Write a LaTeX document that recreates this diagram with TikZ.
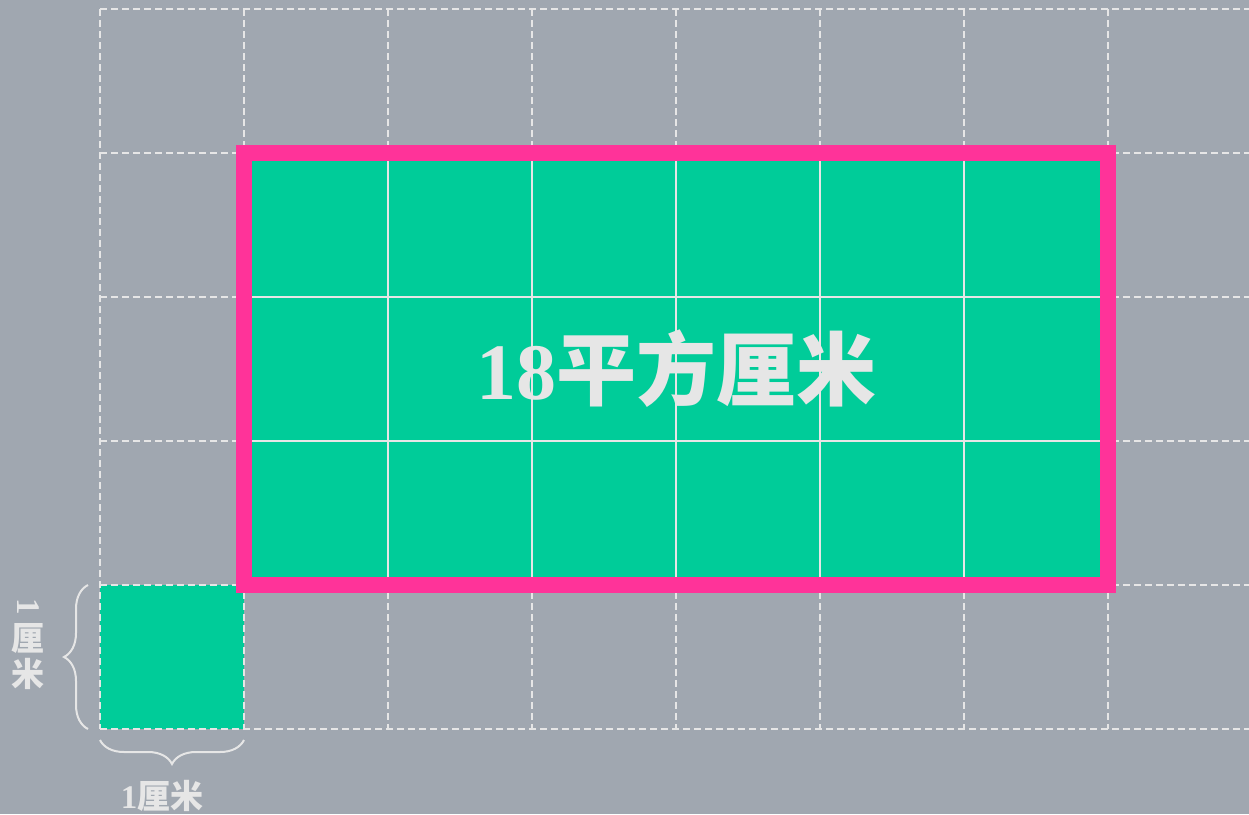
\documentclass[tikz,border=0pt]{standalone}
\usepackage{fontspec}
\setmainfont{Liberation Serif}
\newfontfamily\cjk{Noto Sans CJK SC}
\usetikzlibrary{decorations.pathreplacing}
\definecolor{bg}{HTML}{A0A7B0}
\definecolor{tgreen}{HTML}{00CC99}
\definecolor{tpink}{HTML}{FF3399}
\definecolor{lite}{HTML}{E6E6E6}
\tikzset{
  gridline/.style={draw=lite, line width=2pt, dash pattern=on 7pt off 4pt},
  cellline/.style={draw=lite, line width=2pt},
  frame/.style={draw=tpink, line width=16pt},
  bracestyle/.style={draw=lite, line width=2pt, decorate, decoration={brace, amplitude=24pt}},
  lbl/.style={text=lite, inner sep=0pt},
  small/.style={lbl, font=\fontsize{33}{33}\selectfont\bfseries}
}
\begin{document}
\begin{tikzpicture}[x=1pt,y=-1pt]
\fill[bg] (0,0) rectangle (1249,814);
\useasboundingbox (0,0) rectangle (1249,814);
% unit square
\node (unit) [fill=tgreen, minimum width=144pt, minimum height=144pt, inner sep=0pt] at (172,657) {};
% dashed grid
\foreach \x in {100,244,...,1108} \draw[gridline] (\x,9) -- (\x,729);
\foreach \y in {9,153,...,729} \draw[gridline] (100,\y) -- (1249,\y);
% area
\node (area) [fill=tgreen, minimum width=864pt, minimum height=432pt, inner sep=0pt] at (676,369) {};
\foreach \x in {388,532,...,964} \draw[cellline] (\x,153) -- (\x,585);
\foreach \y in {297,441} \draw[cellline] (244,\y) -- (1108,\y);
\draw[frame] (area.north west) rectangle (area.south east);
\node (arealabel) [lbl, font=\fontsize{80}{80}\selectfont\bfseries] at (area.center) {18{\cjk\bfseries 平方厘米}};
% braces
\coordinate (lb1) at (88,729);
\coordinate (lb2) at (88,585);
\draw[bracestyle] (lb1) -- (lb2);
\coordinate (bb1) at (244,740);
\coordinate (bb2) at (100,740);
\draw[bracestyle] (bb1) -- (bb2);
\node (lone) [small, rotate=-90] at (28,607) {1};
\node (lli) [small] at (28,638) {\cjk\bfseries 厘};
\node (lmi) [small] at (28,674) {\cjk\bfseries 米};
\node (lbottom) [small] at (162,796) {1{\cjk\bfseries 厘米}};
\end{tikzpicture}
\end{document}
